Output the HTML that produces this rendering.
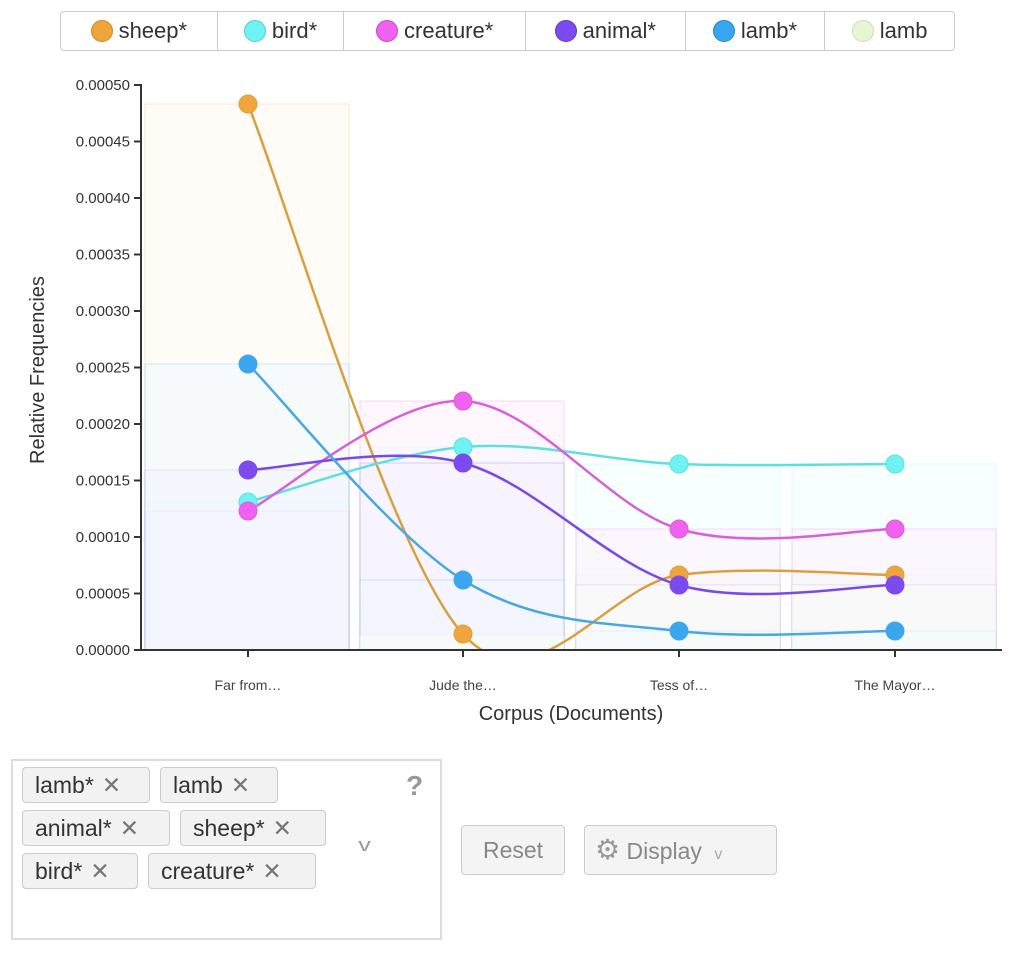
<!DOCTYPE html>
<html><head><meta charset="utf-8"><style>
body{margin:0;width:1024px;height:954px;background:#fff;font-family:"Liberation Sans",sans-serif;position:relative;overflow:hidden}
.legend{position:absolute;left:60px;top:11px;width:895px;height:40px;border:1px solid #ccc;border-radius:4px;display:flex;box-sizing:border-box}
.legend div{display:flex;align-items:center;justify-content:center;border-right:1px solid #ccc;font-size:22px;color:#333;box-sizing:border-box}
.legend div:last-child{border-right:none}
.legend span{display:inline-block;width:20px;height:20px;border-radius:50%;margin-right:6px}
.tagbox{position:absolute;left:11px;top:759px;width:431px;height:181px;border:2px solid #ddd;box-sizing:border-box}
.tag{position:absolute;height:36px;border:1px solid #ccc;border-radius:4px;background:#f2f2f2;font-size:23px;color:#333;line-height:34px;padding-left:12px;box-sizing:border-box}
.tag b{font-weight:normal;color:#777;margin-left:8px}
.btn{position:absolute;top:825px;height:50px;border:1px solid #ccc;border-radius:4px;background:#f4f4f4;color:#888;font-size:23px;line-height:48px;box-sizing:border-box}
</style></head><body>
<div class="legend">
<div style="width:157px"><span style="background:#f0a53a;border:1px solid #c88a20"></span>sheep*</div>
<div style="width:127px"><span style="background:#6ff2f2;border:1px solid #5cc"></span>bird*</div>
<div style="width:182px"><span style="background:#ef62ef;border:1px solid #c4c"></span>creature*</div>
<div style="width:160px"><span style="background:#7c4bf0;border:1px solid #63c"></span>animal*</div>
<div style="width:140px"><span style="background:#38a6f0;border:1px solid #28c"></span>lamb*</div>
<div style="width:129px"><span style="background:#e6f6d2;border:1px solid #cdb"></span>lamb</div>
</div>
<svg id="c" width="1024" height="740" style="position:absolute;left:0;top:0"></svg>
<div class="tagbox"></div>
<div class="tag" style="left:22px;top:767px;width:128px">lamb*<b>✕</b></div>
<div class="tag" style="left:160px;top:767px;width:118px">lamb<b>✕</b></div>
<div class="tag" style="left:22px;top:810px;width:148px">animal*<b>✕</b></div>
<div class="tag" style="left:180px;top:810px;width:146px">sheep*<b>✕</b></div>
<div class="tag" style="left:22px;top:853px;width:116px">bird*<b>✕</b></div>
<div class="tag" style="left:148px;top:853px;width:168px">creature*<b>✕</b></div>
<div style="position:absolute;left:406px;top:770px;font-size:28px;font-weight:bold;color:#999">?</div>
<div style="position:absolute;left:360px;top:835px;font-size:18px;color:#999;transform:scaleX(1.4)">v</div>
<div class="btn" style="left:461px;width:104px;text-align:center">Reset</div>
<div class="btn" style="left:584px;width:193px;padding-left:10px"><span style="font-size:28px;color:#999">⚙</span> Display <span style="font-size:16px;color:#aaa;margin-left:6px">v</span></div>
<script>
var s=document.getElementById('c'),h='';
var X=[248,463,679,895],base=650,k=56.5/0.00005;
function y(v){return base-v*k}
var ser=[
['#d9a040','#f0a53a','#fffaf0',[104,634,575,575]],
['#5ee0e0','#6ff2f2','#f0ffff',[502,447,464,464]],
['#d860d8','#ef62ef','#fdf0fd',[511,401,529,529]],
['#7a4ae8','#7c4bf0','#f4f0ff',[470,463,585,585]],
['#4aa8e0','#38a6f0','#f0f8ff',[364,580,631,631]],
['#d8e8c0','#e6f6d2','#fbfff5',[650,636,585,585]]];
// bars
ser.forEach(function(S){for(var i=0;i<4;i++){var t=S[3][i];h+='<rect x="'+(X[i]-103)+'" y="'+t+'" width="204" height="'+(base-t)+'" fill="'+S[2]+'" fill-opacity="0.5" stroke="'+S[1]+'" stroke-opacity="0.25"/>';}});
h+='<clipPath id="cp"><rect x="141" y="0" width="880" height="650"/></clipPath>';
ser.slice(0,5).forEach(function(S){var P=S[3].map(function(v,i){return[X[i],v]});var d='M'+P[0];
for(var i=0;i<3;i++){var a=P[Math.max(i-1,0)],b=P[i],c=P[i+1],e=P[Math.min(i+2,3)];
d+=' C'+(b[0]+(c[0]-a[0])/6)+','+(b[1]+(c[1]-a[1])/6)+' '+(c[0]-(e[0]-b[0])/6)+','+(c[1]-(e[1]-b[1])/6)+' '+c[0]+','+c[1];}
h+='<path d="'+d+'" fill="none" stroke="'+S[0]+'" stroke-width="2.5" clip-path="url(#cp)"/>';});
ser.slice(0,5).forEach(function(S){S[3].forEach(function(v,i){h+='<circle cx="'+X[i]+'" cy="'+v+'" r="9" fill="'+S[1]+'" stroke="'+S[0]+'" stroke-width="1"/>';});});
// axes
h+='<line x1="141" y1="84" x2="141" y2="651" stroke="#333" stroke-width="2"/><line x1="140" y1="650" x2="1002" y2="650" stroke="#333" stroke-width="2"/>';
for(var j=0;j<=10;j++){var yy=650-j*56.5;h+='<line x1="134" y1="'+yy+'" x2="141" y2="'+yy+'" stroke="#333" stroke-width="2"/><text x="130" y="'+(yy+5)+'" text-anchor="end" font-size="15" fill="#333">'+(j*0.00005).toFixed(5)+'</text>';}
var L=['Far from…','Jude the…','Tess of…','The Mayor…'];
X.forEach(function(x,i){h+='<line x1="'+x+'" y1="650" x2="'+x+'" y2="657" stroke="#333" stroke-width="2"/><text x="'+x+'" y="690" text-anchor="middle" font-size="14" fill="#444">'+L[i]+'</text>';});
h+='<text x="571" y="720" text-anchor="middle" font-size="20" fill="#333">Corpus (Documents)</text>';
h+='<text transform="translate(44,370) rotate(-90)" text-anchor="middle" font-size="20" fill="#333">Relative Frequencies</text>';
s.innerHTML=h;
</script>
</body></html>
